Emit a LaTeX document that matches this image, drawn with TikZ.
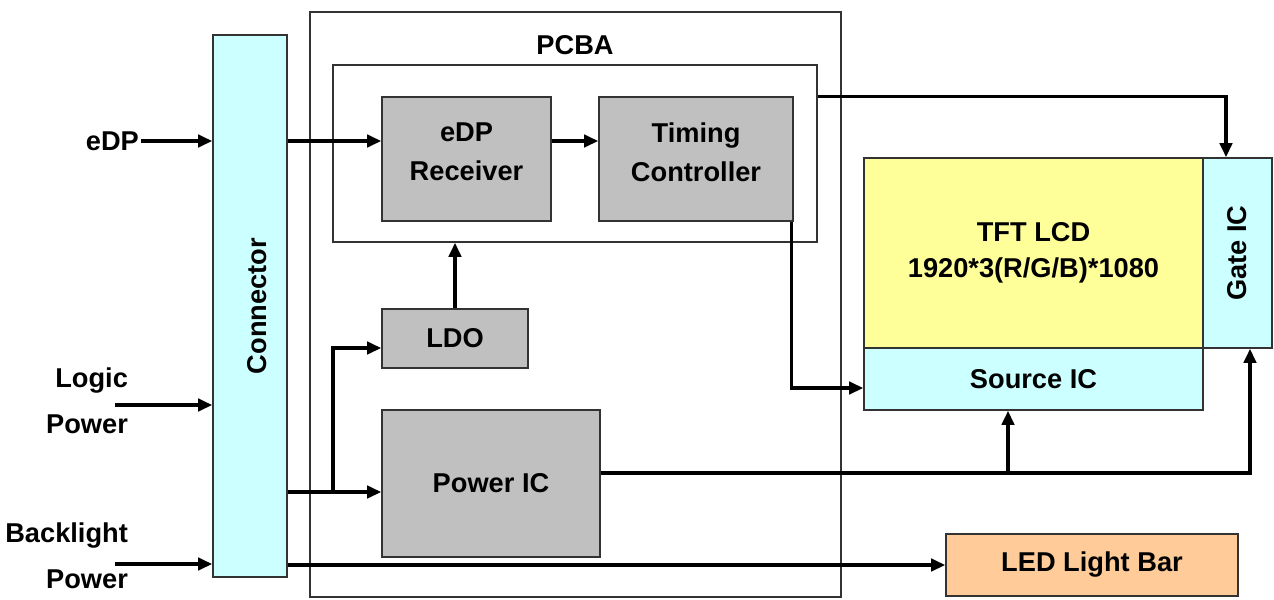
\documentclass[tikz,border=0pt]{standalone}
\usepackage{fontspec}
\setmainfont{Liberation Sans}
\usetikzlibrary{arrows.meta}

\definecolor{icblue}{HTML}{CCFFFF}
\definecolor{chipgray}{HTML}{C0C0C0}
\definecolor{panelyellow}{HTML}{FFFF99}
\definecolor{barorange}{HTML}{FFCC99}

\begin{document}
\begin{tikzpicture}[x=0.02cm,y=-0.02cm,
    font=\fontsize{15.5}{22}\selectfont\bfseries,
    blk/.style={draw=black!80,line width=0.9pt,inner sep=0pt,align=center},
    chip/.style={blk,fill=chipgray},
    wire/.style={line width=1.9pt,-{Triangle[length=8pt,width=7pt]}},
    lbl/.style={align=right,inner sep=1pt,font=\fontsize{15.5}{26}\selectfont\bfseries}]

    \useasboundingbox (0,0) rectangle (1274,599);

    % board and frames
    \node (pcba)  at (575.5,304.5) [blk,minimum width=10.62cm,minimum height=11.7cm] {};
    \node (inner) at (575,153.5)   [blk,minimum width=9.68cm,minimum height=3.54cm] {};
    \node (pcbalbl) at (575,45) {PCBA};

    \node (conn) at (250,306) [blk,fill=icblue,minimum width=1.48cm,minimum height=10.84cm] {};
    \node at (conn.center) [rotate=90,yshift=-4pt] {Connector};

    \node (rx)   at (466.5,159) [chip,minimum width=3.38cm,minimum height=2.48cm] {};
    \node at ([yshift=0.14cm]rx.center) [align=center] {eDP\\Receiver};
    \node (tcon) at (696,159)   [chip,minimum width=3.88cm,minimum height=2.48cm] {};
    \node at ([yshift=0.14cm]tcon.center) [align=center] {Timing\\Controller};
    \node (ldo)  at (455,338.5) [chip,minimum width=2.92cm,minimum height=1.18cm] {LDO};
    \node (pwr)  at (491,483.5) [chip,minimum width=4.36cm,minimum height=2.94cm] {Power IC};

    % panel
    \node (tft)  at (1033.5,253) [blk,fill=panelyellow,minimum width=6.78cm,minimum height=3.8cm,
                                   font=\fontsize{15.5}{20.5}\selectfont\bfseries] {TFT LCD\\1920*3(R/G/B)*1080};
    \node (gate) at (1237.5,253) [blk,fill=icblue,minimum width=1.38cm,minimum height=3.8cm] {};
    \node at (gate.center) [rotate=90] {Gate IC};
    \node (src)  at (1033.5,379) [blk,fill=icblue,minimum width=6.78cm,minimum height=1.24cm] {Source IC};
    \node (led)  at (1092,565)   [blk,fill=barorange,minimum width=5.84cm,minimum height=1.24cm] {LED Light Bar};

    % inputs
    \node (edp)   at (141,141) [anchor=east,inner sep=1pt] {eDP};
    \node (logic) at (130,401) [lbl,anchor=east] {Logic\\Power};
    \node (blight) at (130,556) [lbl,anchor=east] {Backlight\\Power};
    \coordinate (logicin) at (115,405);
    \coordinate (blin)    at (115,564);
    \coordinate (bus)     at (333,492);
    \coordinate (pwrout)  at ([yshift=0.21cm]pwr.east);

    \draw [wire] (edp.east) -- (conn.west |- edp.east);
    \draw [wire] (logicin) -- (conn.west |- logicin);
    \draw [wire] (blin) -- (conn.west |- blin);

    \draw [wire] (conn.east |- edp.east) -- (rx.west |- edp.east);
    \draw [wire] (rx.east |- edp.east) -- (tcon.west |- edp.east);
    \draw [wire] (ldo.north) -- (ldo.north |- inner.south);
    \draw [wire] (conn.east |- bus) -- (pwr.west |- bus);
    \draw [wire] (bus) |- ([yshift=-0.19cm]ldo.west);

    \draw [wire] (inner.east |- rx.north) -| ([xshift=-0.23cm]gate.north);
    \draw [wire] ([xshift=-0.05cm]tcon.south east) |- ([yshift=-0.18cm]src.west);
    \draw [wire] (pwrout) -| ([xshift=0.25cm]gate.south);
    \draw [wire] ([xshift=-0.51cm]src.south |- pwrout) -- ([xshift=-0.51cm]src.south);
    \draw [wire] (conn.east |- led.west) -- (led.west);
\end{tikzpicture}
\end{document}
